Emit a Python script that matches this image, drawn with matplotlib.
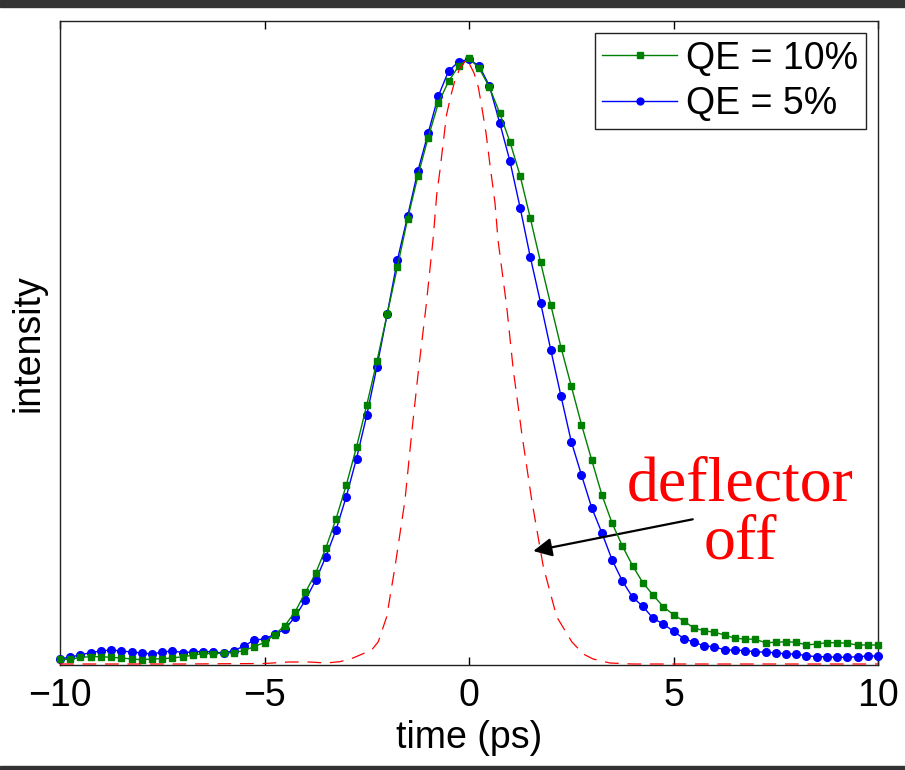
import matplotlib
matplotlib.use("Agg")
import matplotlib.pyplot as plt
from matplotlib.patches import Rectangle
import numpy as np

# time grid for the two measured series (ps)
time_ps = [-10 + 0.25 * k for k in range(81)]

# QE = 5% (blue circles), arbitrary intensity units
qe5 = [6, 8, 10, 12.5, 14, 15, 14, 13, 12, 11,
       13, 14, 12.5, 13, 13.5, 13, 12, 14.4, 19, 25,
       26, 30.7, 35.7, 48.3, 65, 84.7, 108.3, 135.3, 168.5, 206.5,
       249.7, 298.5, 351, 405, 449, 494, 531.7, 569, 594, 603.3,
       605.7, 599, 579, 542.3, 504, 457.3, 407.7, 362.3, 315, 268.7,
       223.5, 190, 157.3, 132, 105, 84, 67.7, 58.7, 46.7, 41,
       33.7, 26.5, 22.8, 19, 18.3, 15, 15, 14.3, 13.3, 12.7,
       12.3, 11, 11, 9.3, 8.3, 8.3, 7.7, 7.7, 8.3, 9, 9]

# QE = 10% (green squares)
qe10 = [5.7, 5.7, 7.7, 8.3, 8.3, 7.7, 7, 6, 5.3, 6,
        6.3, 7, 8.3, 9.7, 11.5, 11.5, 11.7, 12.5, 14.3, 18.5,
        22.5, 30.5, 39.5, 53.3, 72.7, 91.7, 117, 146.3, 180, 218,
        260, 304, 350.8, 398.3, 446.3, 489, 527.3, 561.7, 583.7, 599,
        606.7, 596.7, 577.7, 552, 523.3, 489.3, 446.7, 402.7, 360, 317.5,
        279, 240.5, 205, 170, 141.7, 119, 99.3, 82.3, 70, 58.3,
        50.3, 44, 37, 34.3, 32.7, 30, 26.7, 26, 25.7, 22.3,
        22.7, 23.3, 22.7, 20, 21, 22.3, 22.3, 21.7, 20, 20, 20]

# deflector off (red dashed)
off_t = [-10, -7, -5, -4.4, -3.9, -3.5, -3.154, -2.836, -2.379, -2.218,
         -2.012, -1.809, -1.565, -1.401, -1.235, -1.051, -0.880, -0.790, -0.709, -0.623,
         -0.550, -0.440, -0.342, -0.220, -0.049, 0.122, 0.227, 0.311, 0.416, 0.513,
         0.636, 0.709, 0.922, 1.083, 1.289, 1.533, 1.817, 2.144, 2.511, 2.795,
         3.032, 3.447, 4, 6, 8, 10]
off_i = [1, 1, 1.5, 3, 3, 2, 3.3, 7, 15, 23.3,
         48.3, 98.3, 165, 232, 295, 358.3, 425, 470, 495, 525,
         550, 570, 585, 597, 606, 592, 578, 558.3, 532, 500,
         462, 425, 358.3, 295, 232, 165, 98.3, 48.3, 23.3, 11,
         6, 2, 1, 1, 1, 1]

xticks = [-10, -5, 0, 5, 10]
labels = ["QE = 10%", "QE = 5%"]

plt.rcParams['font.family'] = ['Liberation Sans', 'DejaVu Sans']
fig = plt.figure(figsize=(9.05, 7.7), dpi=100)
ax = fig.add_axes([60/905, 105/770, 818/905, 644/770])

hb, = ax.plot(time_ps, qe5, color='#0000ff', lw=1.0, marker='o', ms=5.5,
              mec='#0000ff', mfc='#0000ff', clip_on=False, zorder=3)
hg, = ax.plot(time_ps, qe10, color='#008000', lw=1.0, marker='s', ms=5,
              mec='#008000', mfc='#008000', clip_on=False, zorder=4)
ax.plot(off_t, off_i, color='#ff0000', lw=0.9, ls=(0, (11, 7)), zorder=5)

ax.set_xlim(-10, 10)
ax.set_ylim(0, 644)
ax.set_xticks(xticks)
ax.set_xticklabels([str(v).replace('-', '\u2212') for v in xticks])
ax.set_yticks([])
ax.tick_params(axis='x', direction='in', length=6, width=1, top=True,
               labelsize=27, pad=9)
for s in ax.spines.values():
    s.set_linewidth(1.0)
    s.set_color('#222222')

ax.set_xlabel('time (ps)', fontsize=27, labelpad=5)
ax.set_ylabel('intensity', fontsize=27, labelpad=10)

leg = ax.legend([hg, hb], labels, loc='upper right',
                bbox_to_anchor=(806/818, (665-33)/644), borderaxespad=0,
                fontsize=27, fancybox=False, framealpha=1, edgecolor='#222222',
                handlelength=2.0, handletextpad=0.25, borderpad=0.2,
                labelspacing=0.25, markerscale=0.9)
leg.get_frame().set_linewidth(1.0)

ax.text(6.63, 0.256*644, 'deflector', color='#ff0000', fontsize=46,
        family='Liberation Serif', ha='center', va='baseline')
ax.text(6.63, 0.166*644, 'off', color='#ff0000', fontsize=46,
        family='Liberation Serif', ha='center', va='baseline')
ax.annotate('', xy=(1.572, 114), xytext=(5.47, 145.7),
            arrowprops=dict(arrowstyle='-|>', color='black', lw=1.6,
                            mutation_scale=28, shrinkA=0, shrinkB=0))

fig.patches.append(Rectangle((0, 1 - 7/770), 1, 7/770, transform=fig.transFigure,
                             color='#333333', zorder=10))
fig.patches.append(Rectangle((0, 0), 1, 4.5/770, transform=fig.transFigure,
                             color='#333333', zorder=10))

fig.savefig('out.png', dpi=100)
